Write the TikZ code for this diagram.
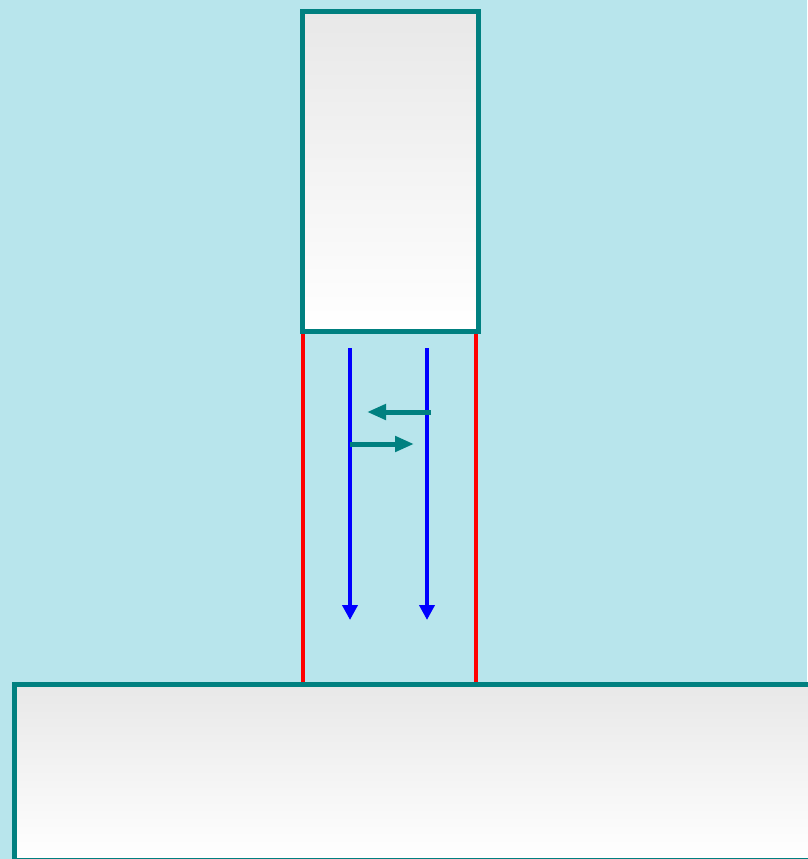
\documentclass[tikz,border=0pt]{standalone}
\usetikzlibrary{arrows.meta}
\definecolor{bgwater}{RGB}{184,229,236}
\definecolor{tealc}{RGB}{0,128,128}
\definecolor{boxtop}{RGB}{232,232,232}
\tikzset{
  panel/.style={draw=tealc, line width=5pt, top color=boxtop, bottom color=white, inner sep=0pt, outer sep=0pt},
  wall/.style={draw=red, line width=4pt},
  flow/.style={draw=blue, line width=4pt, -{Triangle[length=15pt,width=15pt]}},
  swap/.style={draw=tealc, line width=5pt, -{Triangle[length=19pt,width=15pt]}}
}
\begin{document}
\begin{tikzpicture}[x=1pt,y=-1pt]
\useasboundingbox (0,0) rectangle (807,859);
\fill[bgwater] (0,0) rectangle (807,859);
% walls
\coordinate (wl1) at (303,331);
\coordinate (wl2) at (303,684);
\coordinate (wr1) at (476,331);
\coordinate (wr2) at (476,684);
\draw[wall] (wl1) -- (wl2);
\draw[wall] (wr1) -- (wr2);
% boxes
\node[panel, minimum width=176pt, minimum height=320pt, anchor=north west] (top) at (302.5,11.5) {};
\node[panel, minimum width=820pt, minimum height=176pt, anchor=north west] (bottom) at (14.5,684.5) {};
% flows
\coordinate (a1) at (350,348);
\coordinate (a2) at (350,620);
\coordinate (b1) at (427,348);
\coordinate (b2) at (427,620);
\draw[flow] (a1) -- (a2);
\draw[flow] (b1) -- (b2);
% exchange arrows
\coordinate (c1) at (431,412);
\coordinate (c2) at (367,412);
\coordinate (d1) at (350,444);
\coordinate (d2) at (414,444);
\draw[swap] (c1) -- (c2);
\draw[swap] (d1) -- (d2);
\end{tikzpicture}
\end{document}
